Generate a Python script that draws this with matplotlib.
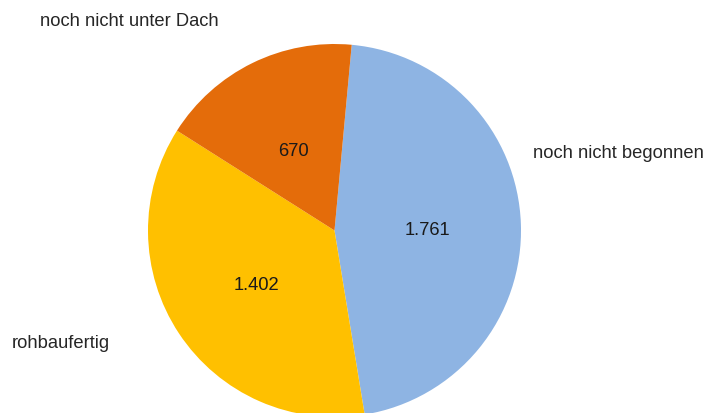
import matplotlib.pyplot as plt

labels = ["noch nicht begonnen", "rohbaufertig", "noch nicht unter Dach"]
values = [1761, 1402, 670]
colors = ["#8EB4E3", "#FFC000", "#E46C0A"]

plt.rcParams['font.family'] = ['Liberation Sans', 'DejaVu Sans']

W, H = 708, 414
fig = plt.figure(figsize=(W / 100, H / 100), dpi=100)
ax = fig.add_axes([0, 0, 1, 1])

cx, cy, r = 334.5, H - 231.5, 186.5

def fmt(v):
    return f"{v:,}".replace(",", ".")

ax.pie(values, colors=colors, startangle=84.7, counterclock=False,
       center=(cx, cy), radius=r, frame=True,
       wedgeprops=dict(linewidth=0))
ax.set_xlim(0, W)
ax.set_ylim(0, H)
ax.set_aspect('equal')
ax.axis('off')

# value labels inside the wedges
val_pos = [(427, 231), (256, 285), (293, 151)]
for (x, y), v in zip(val_pos, values):
    ax.text(x, H - y, fmt(v), ha='center', va='center', fontsize=13.2, color='#1a1a1a')

# category labels outside
lab_pos = [(533, 154), (12, 344), (40, 21)]
for (x, y), lab in zip(lab_pos, labels):
    ax.text(x, H - y, lab, ha='left', va='center', fontsize=13.2, color='#262626')

fig.savefig("out.png", dpi=100)
